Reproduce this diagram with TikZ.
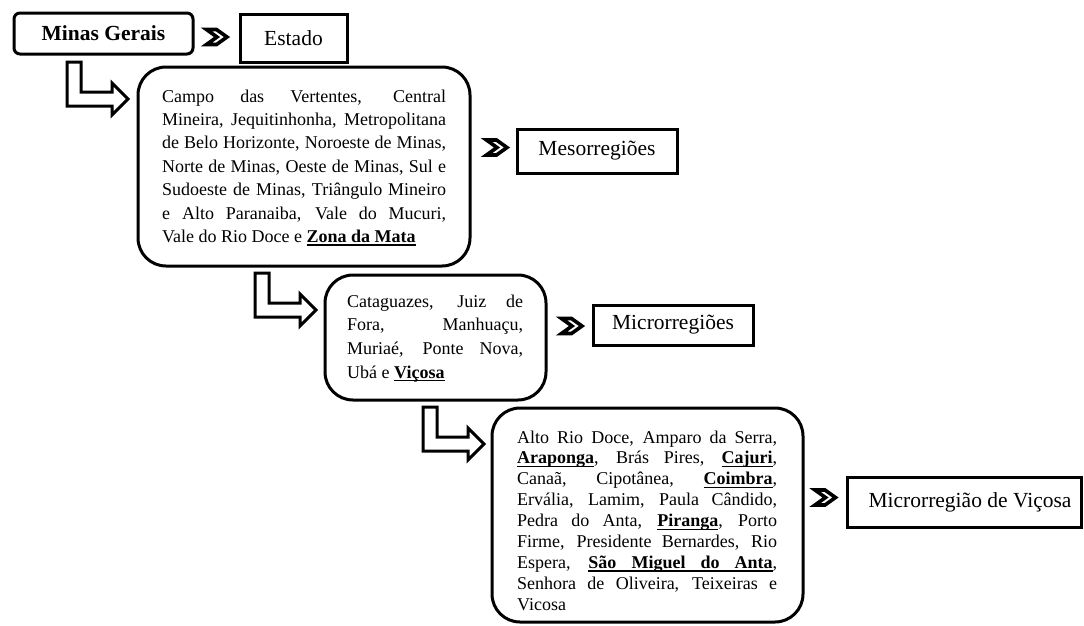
\documentclass[tikz,border=0pt]{standalone}
\usepackage{fontspec}
\setmainfont{Liberation Serif}
\newcommand\jline[2]{\hbox to #1{#2}}
\newcommand\ulw[1]{\setbox0\hbox{\bfseries #1}\rlap{\vrule width\wd0 height -2pt depth 3.3pt}\box0}
\newcommand\uls{\leaders\hrule height -2pt depth 3.3pt\hskip\fontdimen2\font plus\fontdimen3\font minus\fontdimen4\font\relax}
\tikzset{
  boxline/.style={draw=black, line width=3pt, fill=white, inner sep=0pt},
  bigbox/.style={boxline, rounded corners=28pt},
  smallbox/.style={boxline, rounded corners=6pt},
  labelbox/.style={boxline},
  titlefont/.style={font=\fontsize{21.5}{24}\selectfont},
  listtext/.style={anchor=base west, inner sep=0pt},
  shapeline/.style={draw=black, line width=3pt, fill=white, line join=miter},
  chevline/.style={draw=black, line width=3.6pt, fill=white, line join=miter},
  chevpic/.pic={\draw[chevline] (-10,-7.5) -- (0,-7.5) -- (10.5,0) -- (0,7.5) -- (-10,7.5) -- (0.5,0) -- cycle;},
  elbowpic/.pic={\draw[shapeline] (0,0) -- (14,0) -- (14,30) -- (45,30) -- (45,21) -- (61,37) -- (45,53) -- (45,44) -- (0,44) -- cycle;}
}
\begin{document}
\begin{tikzpicture}[x=1pt,y=-1pt]
\useasboundingbox (0,0) rectangle (1084,625);

% level 1
\node[smallbox, minimum width=179pt, minimum height=41pt] (mg) at (103.5,33.5) {};
\node[titlefont, inner sep=0pt] (mgt) at (mg.center) {\textbf{Minas Gerais}};
\pic at (216.5,37) {chevpic};
\node[labelbox, minimum width=107pt, minimum height=48pt] (est) at (293.5,38) {};
\node[titlefont, inner sep=0pt] (estt) at (est.center) {Estado};

% level 2
\pic at (67,62) {elbowpic};
\node[bigbox, minimum width=332pt, minimum height=199pt] (b1) at (304,166.5) {};
\node[listtext, font=\fontsize{18}{23.4}\selectfont] (t1) at (162,102) {\vtop{%
\jline{284pt}{Campo das Vertentes, Central}%
\jline{284pt}{Mineira, Jequitinhonha, Metropolitana}%
\jline{284pt}{de Belo Horizonte, Noroeste de Minas,}%
\jline{284pt}{Norte de Minas, Oeste de Minas, Sul e}%
\jline{284pt}{Sudoeste de Minas, Triângulo Mineiro}%
\jline{284pt}{e Alto Paranaiba, Vale do Mucuri,}%
\hbox{Vale do Rio Doce e \ulw{Zona}\uls\ulw{da}\uls\ulw{Mata}}}};
\pic at (496.5,147.5) {chevpic};
\node[labelbox, minimum width=160pt, minimum height=44pt] (meso) at (597,151) {};
\node[titlefont, inner sep=0pt] (mesot) at (meso.center) {Mesorregiões};

% level 3
\pic at (255,273) {elbowpic};
\node[bigbox, minimum width=221pt, minimum height=125pt] (b2) at (435.5,337.5) {};
\node[listtext, font=\fontsize{18}{23.7}\selectfont] (t2) at (347,307) {\vtop{%
\jline{176pt}{Cataguazes, Juiz de}%
\jline{176pt}{Fora, Manhuaçu,}%
\jline{176pt}{Muriaé, Ponte Nova,}%
\hbox{Ubá e \ulw{Viçosa}}}};
\pic at (571.5,326) {chevpic};
\node[labelbox, minimum width=160pt, minimum height=40pt] (micro) at (673,325) {};
\node[titlefont, inner sep=0pt] (microt) at (micro.center) {Microrregiões};

% level 4
\pic at (423,407) {elbowpic};
\node[bigbox, minimum width=311pt, minimum height=214pt] (b3) at (647.5,515) {};
\node[listtext, font=\fontsize{18}{20.9}\selectfont] (t3) at (517,443) {\vtop{%
\jline{260pt}{Alto Rio Doce, Amparo da Serra,}%
\jline{260pt}{\ulw{Araponga}, Brás Pires, \ulw{Cajuri},}%
\jline{260pt}{Canaã, Cipotânea, \ulw{Coimbra},}%
\jline{260pt}{Ervália, Lamim, Paula Cândido,}%
\jline{260pt}{Pedra do Anta, \ulw{Piranga}, Porto}%
\jline{260pt}{Firme, Presidente Bernardes, Rio}%
\jline{260pt}{Espera, \ulw{São}\uls\ulw{Miguel}\uls\ulw{do}\uls\ulw{Anta},}%
\jline{260pt}{Senhora de Oliveira, Teixeiras e}%
\hbox{Vicosa}}};
\pic at (825,497.5) {chevpic};
\node[labelbox, minimum width=234pt, minimum height=50pt] (mv) at (964,502) {};
\node[titlefont, inner sep=0pt] (mvt) at (970,502) {Microrregião de Viçosa};
\end{tikzpicture}
\end{document}
